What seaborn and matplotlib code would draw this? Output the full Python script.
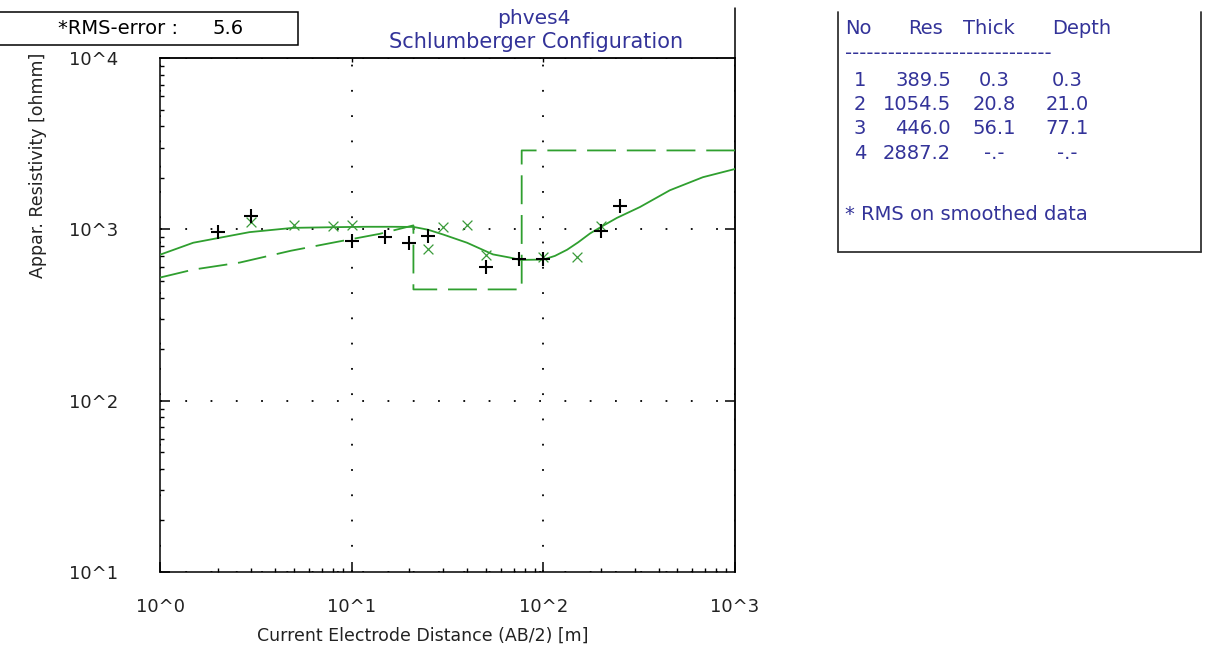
import numpy as np
import matplotlib
matplotlib.use("Agg")
import matplotlib.pyplot as plt
import seaborn as sns
from matplotlib.ticker import LogLocator, NullFormatter, NullLocator
from matplotlib.lines import Line2D
from matplotlib.patches import Rectangle

# ---------------- data ----------------
# observed apparent resistivity (black +)
obs_ab2 = [2, 3, 10, 15, 20, 25, 50, 75, 100, 200, 250]
obs_rho = [970, 1190, 860, 900, 835, 915, 600, 670, 668, 975, 1360]
# smoothed data (green x)
smooth_ab2 = [3, 5, 8, 10, 25, 30, 40, 50, 100, 150, 200]
smooth_rho = [1100, 1065, 1050, 1065, 765, 1030, 1065, 705, 685, 693, 1050]
# calculated curve (solid green)
calc_ab2 = [1, 1.49, 2.93, 4.94, 8.4, 12, 16, 21, 25, 30, 40, 54.6, 67, 75.5, 100,
            115, 133, 152, 175, 202, 242, 319, 457, 680, 1000]
calc_rho = [711, 835, 963, 1020, 1030, 1035, 1035, 1033, 995, 933, 835, 714, 684, 663, 666,
            700, 760, 840, 945, 1040, 1166, 1349, 1690, 2015, 2250]
# layered model (dashed green)
layer_no = [1, 2, 3, 4]
layer_res = [389.5, 1054.5, 446.0, 2887.2]
layer_thick = [0.3, 20.8, 56.1, None]
layer_depth = [0.3, 21.0, 77.1, None]
model_ab2 = [1, 1.49, 2.61, 4.82, 8.48, 14.05]
model_rho = [523, 582, 640, 750, 847, 942]
rms_error = 5.6
title_lines = ["phves4", "Schlumberger Configuration"]
x_ticks = [1, 10, 100, 1000]
x_tick_labels = ["10^0", "10^1", "10^2", "10^3"]
y_ticks = [10, 100, 1000, 10000]
y_tick_labels = ["10^1", "10^2", "10^3", "10^4"]
x_label = "Current Electrode Distance (AB/2) [m]"
y_label = "Appar. Resistivity [ohmm]"
x_max = 1000

# ---------------- style ----------------
sns.set_style("white")
plt.rcParams["font.family"] = ["DejaVu Sans"]

W, H = 1217, 648
fig = plt.figure(figsize=(W / 100, H / 100), dpi=100)
fig.patch.set_facecolor("white")


def fx(px):
    return px / W


def fy(py):
    return 1 - py / H


ax_l, ax_r, ax_t, ax_b = 160, 735, 58, 572
ax = fig.add_axes([fx(ax_l), fy(ax_b), (ax_r - ax_l) / W, (ax_b - ax_t) / H])

GREEN = "#2f9f2f"
BLUE = "#333399"
TXT = "#222222"

# model step curve built from the layer table
step_x = list(model_ab2) + [layer_depth[1], layer_depth[1], layer_depth[2], layer_depth[2], x_max]
step_y = list(model_rho) + [layer_res[1], layer_res[2], layer_res[2], layer_res[3], layer_res[3]]

sns.lineplot(x=step_x, y=step_y, sort=False, estimator=None, ax=ax, color=GREEN,
             linewidth=1.3, linestyle=(0, (16, 6)), zorder=3)
sns.lineplot(x=calc_ab2, y=calc_rho, sort=False, estimator=None, ax=ax, color=GREEN,
             linewidth=1.3, zorder=3)
sns.scatterplot(x=smooth_ab2, y=smooth_rho, marker="x", color="#3a9a3a", s=50,
                linewidth=0.9, ax=ax, zorder=4)
sns.scatterplot(x=obs_ab2, y=obs_rho, marker="+", color="black", s=95,
                linewidth=1.5, ax=ax, zorder=5)

ax.set_xscale("log")
ax.set_yscale("log")
ax.set_xlim(1, 1000)
ax.set_ylim(10, 10000)

ax.set_xticks(x_ticks, x_tick_labels)
ax.set_yticks(y_ticks, y_tick_labels)
ax.xaxis.set_minor_locator(LogLocator(base=10, subs=np.arange(2, 10)))
ax.yaxis.set_minor_locator(LogLocator(base=10, subs=np.arange(2, 10)))
ax.xaxis.set_minor_formatter(NullFormatter())
ax.yaxis.set_minor_formatter(NullFormatter())

ax.tick_params(which="major", direction="in", length=7, width=1.1, color="black",
               left=True, bottom=True, top=False, right=False, labelsize=13,
               labelcolor=TXT)
ax.tick_params(axis="x", which="major", pad=19)
ax.tick_params(axis="y", which="major", pad=30)
ax.tick_params(which="minor", direction="in", length=3, width=1.0, color="black",
               left=True, bottom=True, top=False, right=False)

ax.grid(which="major", color="black", linestyle=(0, (1, 13)), linewidth=1.3)
ax.grid(which="minor", visible=False)

for sp in ax.spines.values():
    sp.set_visible(True)
    sp.set_color("black")
    sp.set_linewidth(1.1)

secx = ax.secondary_xaxis("top")
secx.set_xticks(x_ticks[1:3])
secx.set_xticklabels([])
secx.xaxis.set_minor_locator(NullLocator())
secx.tick_params(direction="in", length=3, width=1.0, color="black")
secx.spines["top"].set_linewidth(1.1)

secy = ax.secondary_yaxis("right")
secy.set_yticks(y_ticks[1:3])
secy.set_yticklabels([])
secy.yaxis.set_minor_locator(NullLocator())
secy.tick_params(direction="in", length=7, width=1.1, color="black")
secy.spines["right"].set_linewidth(1.1)

ax.set_xlabel(x_label, fontsize=12.5, color=TXT)
ax.xaxis.label.set_va("center")
ax.xaxis.set_label_coords((423 - ax_l) / (ax_r - ax_l), (ax_b - 636) / (ax_b - ax_t))
ax.set_ylabel(y_label, fontsize=12.5, color=TXT)
ax.yaxis.label.set_va("center")
ax.yaxis.set_label_coords((38 - ax_l) / (ax_r - ax_l), (ax_b - 165) / (ax_b - ax_t))

# title
fig.text(fx(534), fy(19), title_lines[0], ha="center", va="center", fontsize=14.5, color=BLUE)
fig.text(fx(536), fy(42), title_lines[1], ha="center", va="center", fontsize=15, color=BLUE)

# right spine extension above the plot
fig.add_artist(Line2D([fx(ax_r), fx(ax_r)], [fy(8), fy(ax_t)], color="black", lw=1.1))

# RMS box
fig.add_artist(Rectangle((fx(-3), fy(45)), fx(301), 33 / H, fill=True, facecolor="white",
                         edgecolor="black", lw=1.1))
fig.text(fx(58), fy(29), "*RMS-error :", ha="left", va="center", fontsize=14, color="black")
fig.text(fx(213), fy(29), f"{rms_error:.1f}", ha="left", va="center", fontsize=14, color="black")

# model table box
bx0, bx1, by0, by1 = 838, 1201, 12, 252
for xs, ys in [([bx0, bx0], [by0, by1]), ([bx1, bx1], [by0, by1]), ([bx0, bx1], [by1, by1])]:
    fig.add_artist(Line2D([fx(v) for v in xs], [fy(v) for v in ys], color="#333333", lw=1.3))

TS = 14
hdr_y = 28
fig.text(fx(845), fy(hdr_y), "No", ha="left", va="center", fontsize=TS, color=BLUE)
fig.text(fx(908), fy(hdr_y), "Res", ha="left", va="center", fontsize=TS, color=BLUE)
fig.text(fx(963), fy(hdr_y), "Thick", ha="left", va="center", fontsize=TS, color=BLUE)
fig.text(fx(1052), fy(hdr_y), "Depth", ha="left", va="center", fontsize=TS, color=BLUE)
fig.text(fx(845), fy(53), "-" * 29, ha="left", va="center", fontsize=TS, color=BLUE)

row_y = [81, 105, 129, 153]
for i, no in enumerate(layer_no):
    y = fy(row_y[i])
    th = "-.-" if layer_thick[i] is None else f"{layer_thick[i]:.1f}"
    de = "-.-" if layer_depth[i] is None else f"{layer_depth[i]:.1f}"
    fig.text(fx(860), y, f"{no}", ha="center", va="center", fontsize=TS, color=BLUE)
    fig.text(fx(951), y, f"{layer_res[i]:.1f}", ha="right", va="center", fontsize=TS, color=BLUE)
    fig.text(fx(994), y, th, ha="center", va="center", fontsize=TS, color=BLUE)
    fig.text(fx(1067), y, de, ha="center", va="center", fontsize=TS, color=BLUE)

fig.text(fx(845), fy(214), "* RMS on smoothed data", ha="left", va="center", fontsize=TS, color=BLUE)

fig.savefig("out.png", dpi=100, facecolor="white")
